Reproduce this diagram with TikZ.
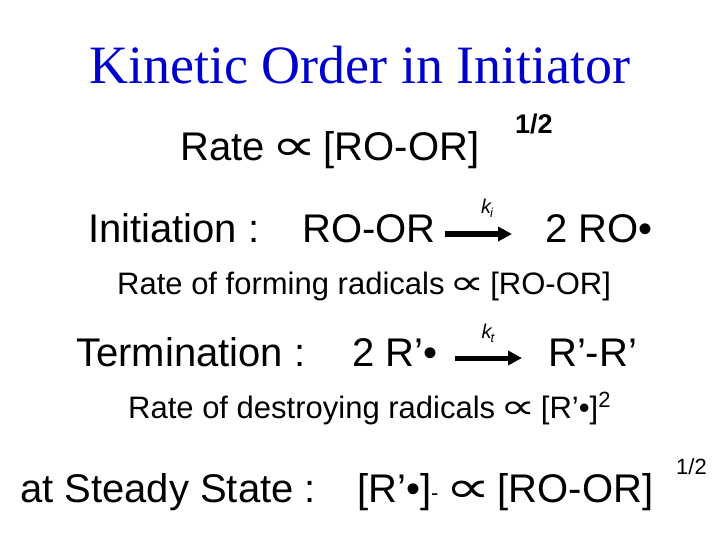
\documentclass[tikz,border=0pt]{standalone}
\usepackage{fontspec}
\usetikzlibrary{arrows.meta}
\setmainfont{Liberation Sans}
\newfontfamily\titlefont{Liberation Serif}
\newfontfamily\symfont{DejaVu Sans}
\newcommand{\prop}{\,\scalebox{1.6}[1.1]{\symfont ∝}\,}
\begin{document}
\begin{tikzpicture}[x=1pt,y=-1pt,
  txt/.style={anchor=base west,inner sep=0pt,font=\fontsize{40}{42}\selectfont},
  sm/.style={anchor=base west,inner sep=0pt,font=\fontsize{31}{33}\selectfont},
  rarrow/.style={line width=5pt,-{Triangle[length=14pt,width=14pt]}}]
\useasboundingbox (0,0) rectangle (720,540);
\node[anchor=base,inner sep=0pt,text={rgb,255:red,0;green,0;blue,204},font=\titlefont\fontsize{54}{56}\selectfont] (title) at (360,84) {Kinetic Order in Initiator};
\node[txt] (rate) at (180,161) {Rate\prop{}[RO-OR]};
\node[anchor=base west,inner sep=0pt,font=\bfseries\fontsize{27}{29}\selectfont] (half) at (515,134) {1/2};
\node[txt] (init) at (88,242) {Initiation :};
\node[txt] (roor) at (302,242) {RO-OR};
\node[txt] (ro) at (545,242) {2 RO\textbullet};
\coordinate (a1) at (445,234); \coordinate (a2) at (512,234);
\draw[rarrow] (a1) -- (a2);
\node[anchor=base,inner sep=0pt,font=\itshape\fontsize{20}{22}\selectfont] (ki) at (487,214) {k\kern-1pt\raisebox{-4pt}{\fontsize{13}{14}\selectfont i}};
\node[sm] (form) at (117,294) {Rate of forming radicals\prop{}[RO-OR]};
\node[txt] (term) at (76,366) {Termination :};
\node[txt] (rr) at (352,366) {2 R’\textbullet};
\node[txt] (rprod) at (548,366) {R’-R’};
\coordinate (b1) at (455,358); \coordinate (b2) at (522,358);
\draw[rarrow] (b1) -- (b2);
\node[anchor=base,inner sep=0pt,font=\itshape\fontsize{20}{22}\selectfont] (kt) at (488,338) {k\kern-1pt\raisebox{-4pt}{\fontsize{13}{14}\selectfont t}};
\node[sm] (dest) at (128,418) {Rate of destroying radicals\prop{}[R’\textbullet]\raisebox{11pt}{\fontsize{22}{24}\selectfont 2}};
\node[txt] (ss) at (20,502) {at Steady State :};
\node[txt] (eq) at (357,502) {[R’\textbullet]\raisebox{2pt}{\fontsize{22}{24}\selectfont -}\prop{}[RO-OR]};
\node[anchor=base west,inner sep=0pt,font=\fontsize{22}{24}\selectfont] (half2) at (676,474) {1/2};
\end{tikzpicture}
\end{document}
